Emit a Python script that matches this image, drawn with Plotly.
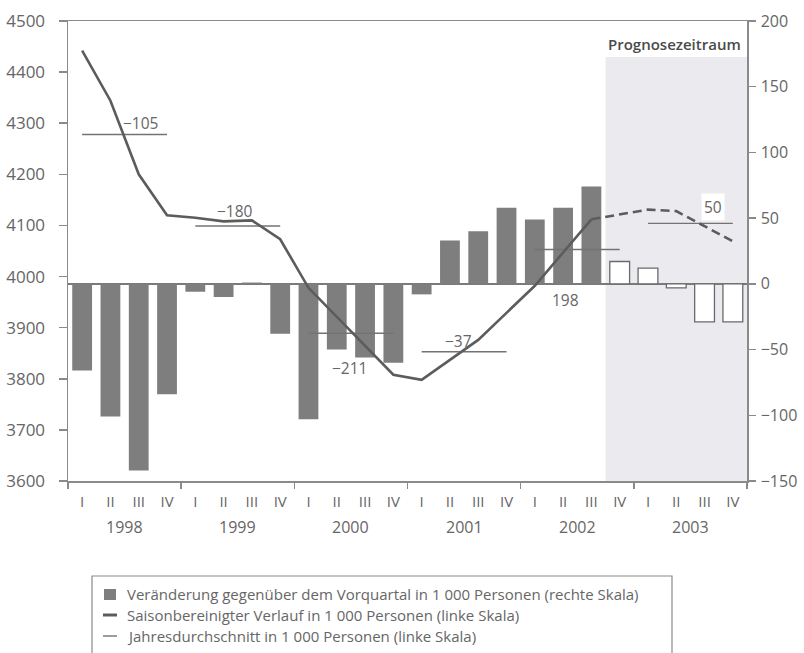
import plotly.graph_objects as go

# ---------------- data ----------------
quarters = ["I", "II", "III", "IV"]
years = ["1998", "1999", "2000", "2001", "2002", "2003"]

# Veränderung gegenüber dem Vorquartal, 1000 Personen (rechte Skala)
change_q = [-66, -101, -142, -84,
            -6, -10, 1, -38,
            -103, -50, -56, -60,
            -8, 33, 40, 58,
            49, 58, 74, 17,
            12, -3, -29, -29]

# Saisonbereinigter Verlauf, 1000 Personen (linke Skala)
level_sa = [4442, 4344, 4200, 4120,
            4115, 4108, 4110, 4073,
            3978, 3922, 3865, 3808,
            3798, 3837, 3876, 3929,
            3982, 4047, 4112, 4122,
            4131, 4128, 4099, 4069]

# Jahresdurchschnitt, 1000 Personen (linke Skala)
annual_avg = [4278, 4099, 3889, 3853, 4053, 4104]
annual_change_labels = ["−105", "−180", "−211", "−37", "198", "50"]

forecast_start = 19  # first forecast quarter: 2002 IV

# ---------------- style ----------------
FONT = "Open Sans"
TXT = "#666666"
AXIS = "#8a8a8a"
BAR = "#7e7e7e"
LINE = "#5c5c5c"
AVG = "#737373"
SHADE = "#ebebef"

W, H = 804, 653
ML, MR, MT, MB = 68, 57, 21, 172
PW, PH = W - ML - MR, H - MT - MB


def px(xp):
    return (xp - ML) / PW


def py(yp):
    return (H - MB - yp) / PH


n = len(change_q)
x_idx = list(range(n))

fig = go.Figure()

# bars (right scale -> primary y axis placed on the right)
fig.add_trace(go.Bar(
    x=x_idx[:forecast_start], y=change_q[:forecast_start], width=0.7,
    marker=dict(color=BAR, line=dict(width=0)), yaxis="y", showlegend=False))
fig.add_trace(go.Bar(
    x=x_idx[forecast_start:], y=change_q[forecast_start:], width=0.7,
    marker=dict(color="white", line=dict(color="#6a6a6a", width=1.3)),
    yaxis="y", showlegend=False))

# annual averages
ax, ay = [], []
for k, v in enumerate(annual_avg):
    ax += [4 * k, 4 * k + 3, None]
    ay += [v, v, None]
fig.add_trace(go.Scatter(x=ax, y=ay, mode="lines", yaxis="y2",
                         line=dict(color=AVG, width=1.4), showlegend=False))

# seasonally adjusted line
fig.add_trace(go.Scatter(x=x_idx[:forecast_start], y=level_sa[:forecast_start],
                         mode="lines", yaxis="y2",
                         line=dict(color=LINE, width=2.6), showlegend=False))
fig.add_trace(go.Scatter(x=x_idx[forecast_start - 1:], y=level_sa[forecast_start - 1:],
                         mode="lines", yaxis="y2",
                         line=dict(color=LINE, width=2.6, dash="9px,5px"),
                         showlegend=False))

annotations = []
# annual change labels: (x in quarter units, pixel shift from average line)
label_pos = [(2.08, 11), (5.39, 15), (9.45, -35), (13.3, 11), (17.1, -51), (22.3, 16)]
for k, txt in enumerate(annual_change_labels):
    xx, sh = label_pos[k]
    annotations.append(dict(
        x=xx, y=annual_avg[k], xref="x", yref="y2", text=txt, showarrow=False,
        yshift=sh, font=dict(family=FONT, size=15.5, color=TXT),
        bgcolor="white" if k == len(annual_change_labels) - 1 else None,
        borderpad=2))

# year labels
for k, yr in enumerate(years):
    annotations.append(dict(
        x=4 * k + 1.5, y=py(527), xref="x", yref="paper", text=yr,
        showarrow=False, yanchor="middle",
        font=dict(family=FONT, size=16, color=TXT)))

# forecast label
annotations.append(dict(
    x=n - 0.5, y=py(44), xref="x", yref="paper", text="Prognosezeitraum",
    showarrow=False, xanchor="right", yanchor="middle", xshift=-4,
    font=dict(family=FONT, size=15, color="#4a4a4a", weight=600)))

# legend texts
legend_texts = [
    "Veränderung gegenüber dem Vorquartal in 1 000 Personen (rechte Skala)",
    "Saisonbereinigter Verlauf in 1 000 Personen (linke Skala)",
    "Jahresdurchschnitt in 1 000 Personen (linke Skala)",
]
legend_rows = [594, 615, 636]
for t, yy in zip(legend_texts, legend_rows):
    annotations.append(dict(
        x=px(125), y=py(yy), xref="paper", yref="paper", text=t,
        showarrow=False, xanchor="left", yanchor="middle",
        font=dict(family=FONT, size=15, color=TXT)))

shapes = [
    # forecast shading
    dict(type="rect", xref="x", yref="paper", x0=forecast_start - 0.5, x1=n - 0.5,
         y0=0, y1=py(57), fillcolor=SHADE, line=dict(width=0), layer="below"),
    # legend frame
    dict(type="rect", xref="paper", yref="paper", x0=px(92), x1=px(672),
         y0=py(680), y1=py(576), line=dict(color=AXIS, width=1.2)),
    # legend symbols
    dict(type="rect", xref="paper", yref="paper", x0=px(104), x1=px(116),
         y0=py(600), y1=py(589), fillcolor=BAR, line=dict(width=0)),
    dict(type="line", xref="paper", yref="paper", x0=px(103), x1=px(117),
         y0=py(615), y1=py(615), line=dict(color=LINE, width=3)),
    dict(type="line", xref="paper", yref="paper", x0=px(103), x1=px(117),
         y0=py(636), y1=py(636), line=dict(color=AVG, width=1.4)),
]

fig.update_layout(
    width=W, height=H,
    margin=dict(l=ML, r=MR, t=MT, b=MB, pad=0, autoexpand=False),
    paper_bgcolor="white", plot_bgcolor="white",
    barmode="overlay", showlegend=False, hovermode=False,
    font=dict(family=FONT, size=15, color=TXT),
    xaxis=dict(
        range=[-0.5, n - 0.5], tickmode="array", tickvals=x_idx,
        ticktext=quarters * len(years), ticks="", showgrid=False,
        zeroline=False, showline=True, linecolor=AXIS, linewidth=1.5,
        mirror=True, tickfont=dict(size=15, color=TXT), ticklabelstandoff=6,
        minor=dict(tickmode="array",
                   tickvals=[4 * k - 0.5 for k in range(len(years) + 1)],
                   ticks="outside", ticklen=6, tickwidth=1.5, tickcolor=AXIS)),
    yaxis=dict(
        side="right", range=[-150, 200], tickmode="array",
        tickvals=[-150, -100, -50, 0, 50, 100, 150, 200],
        ticks="outside", ticklen=7, tickwidth=1.5, tickcolor=AXIS,
        showline=True, linecolor=AXIS, linewidth=1.5, showgrid=False,
        zeroline=True, zerolinecolor="#7a7a7a", zerolinewidth=1.5,
        tickfont=dict(size=16, color=TXT), ticklabelstandoff=2),
    yaxis2=dict(
        side="left", overlaying="y", range=[3600, 4500], tickmode="array",
        tickvals=list(range(3600, 4501, 100)),
        ticks="outside", ticklen=8, tickwidth=1.5, tickcolor=AXIS,
        showline=True, linecolor=AXIS, linewidth=1.5, showgrid=False,
        zeroline=False, tickfont=dict(size=17, color=TXT), ticklabelstandoff=10),
    annotations=annotations,
    shapes=shapes,
)

fig.write_html(
    "out.html",
    config={"displayModeBar": False, "staticPlot": True},
    post_script="document.body.style.margin='0';document.body.style.overflow='hidden';",
)
